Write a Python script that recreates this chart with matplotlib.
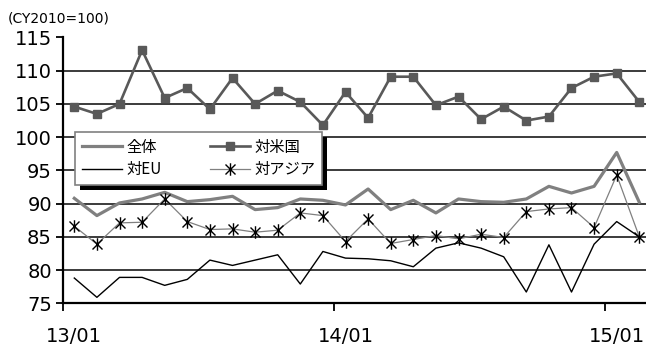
import matplotlib
matplotlib.use("Agg")
import matplotlib.pyplot as plt
from matplotlib.path import Path
from matplotlib.patches import Rectangle

plt.rcParams['font.family'] = ['Noto Sans CJK JP', 'DejaVu Sans']

# 月次指数 (CY2010=100)、13/01 ～ 15/02
months = ["13/01", "13/02", "13/03", "13/04", "13/05", "13/06", "13/07", "13/08",
          "13/09", "13/10", "13/11", "13/12", "14/01", "14/02", "14/03", "14/04",
          "14/05", "14/06", "14/07", "14/08", "14/09", "14/10", "14/11", "14/12",
          "15/01", "15/02"]
zentai = [90.8, 88.2, 90.1, 90.7, 91.7, 90.3, 90.6, 91.1, 89.1, 89.4, 90.7, 90.5, 89.8,
          92.2, 89.1, 90.5, 88.6, 90.7, 90.3, 90.2, 90.7, 92.6, 91.6, 92.6, 97.7, 90.2]
tai_us = [104.6, 103.5, 105.0, 113.1, 105.9, 107.4, 104.2, 108.9, 105.0, 107.0, 105.3,
          101.8, 106.8, 102.9, 109.1, 109.1, 104.8, 106.1, 102.7, 104.6, 102.5, 103.1,
          107.4, 109.1, 109.6, 105.3]
tai_eu = [78.8, 75.9, 78.9, 78.9, 77.7, 78.6, 81.5, 80.7, 81.5, 82.3, 77.9, 82.8, 81.8,
          81.7, 81.4, 80.5, 83.3, 84.1, 83.3, 82.0, 76.7, 83.8, 76.7, 83.9, 87.3, 85.0]
tai_asia = [86.6, 83.9, 87.1, 87.2, 90.7, 87.3, 86.1, 86.2, 85.7, 86.0, 88.6, 88.2, 84.3,
            87.7, 84.0, 84.6, 85.2, 84.7, 85.4, 84.9, 88.8, 89.2, 89.4, 86.4, 94.3, 85.0]

year_ticks = [0, 12, 24]
yticks = [75, 80, 85, 90, 95, 100, 105, 110, 115]

# 米印 (縦線 + X)
asterisk = Path([(0, -1), (0, 1), (-0.8, -0.8), (0.8, 0.8), (-0.8, 0.8), (0.8, -0.8)],
                [Path.MOVETO, Path.LINETO] * 3)

fig = plt.figure(figsize=(6.46, 3.47), dpi=100)
ax = fig.add_axes([63 / 646, 43.7 / 347, 587.6 / 646, 265.8 / 347])

x = list(range(len(months)))
ax.plot(x, zentai, color='#808080', lw=2.3, label='全体', zorder=3)
ax.plot(x, tai_us, color='#595959', lw=1.9, marker='s', ms=6, label='対米国', zorder=3)
ax.plot(x, tai_eu, color='black', lw=1.0, label='対EU', zorder=3)
ax.plot(x, tai_asia, color='#808080', lw=0.9, marker=asterisk, ms=9, mec='black',
        mew=1.0, label='対アジア', zorder=4)

ax.set_xlim(-0.5, len(months) - 0.5)
ax.set_ylim(75, 115)
ax.set_yticks(yticks)
ax.set_yticklabels([str(v) for v in yticks], family='DejaVu Sans', fontsize=14)
ax.tick_params(axis='y', direction='out', length=5, width=1.3, pad=3)

ax.set_xticks(year_ticks)
ax.set_xticklabels([months[i] for i in year_ticks], family='DejaVu Sans', fontsize=14)
ax.tick_params(axis='x', which='major', length=0, pad=17)
ax.set_xticks([-0.5, 11.5, 23.5], minor=True)
ax.tick_params(axis='x', which='minor', direction='out', length=6, width=1.3)

ax.grid(axis='y', color='#1a1a1a', lw=1.2, zorder=1)
ax.set_axisbelow(True)
for s in ['top', 'right']:
    ax.spines[s].set_visible(False)
ax.spines['left'].set_linewidth(1.6)
ax.spines['bottom'].set_linewidth(1.6)

handles, labels = ax.get_legend_handles_labels()
order = [0, 2, 1, 3]
leg = ax.legend([handles[i] for i in order], [labels[i] for i in order], ncol=2,
                loc='lower left', bbox_to_anchor=(0.0204, 0.445), borderaxespad=0,
                fontsize=11, handlelength=2.6, handletextpad=0.3, columnspacing=3.2,
                labelspacing=0.35, borderpad=0.45, fancybox=False, framealpha=1,
                edgecolor='#808080')
leg.get_frame().set_linewidth(1.2)
leg.set_zorder(6)

fig.text(8 / 646, 1 - 19 / 347, '(CY2010=100)', fontsize=10, va='center', ha='left',
         family='DejaVu Sans')

# 凡例の影
fig.canvas.draw()
bb = leg.get_window_extent().transformed(fig.transFigure.inverted())
shadow = Rectangle((bb.x0 + 5 / 646, bb.y0 - 5 / 347), bb.width, bb.height,
                   transform=fig.transFigure, facecolor='black', edgecolor='none',
                   zorder=5.5)
ax.add_artist(shadow)

fig.savefig('out.png', dpi=100)
